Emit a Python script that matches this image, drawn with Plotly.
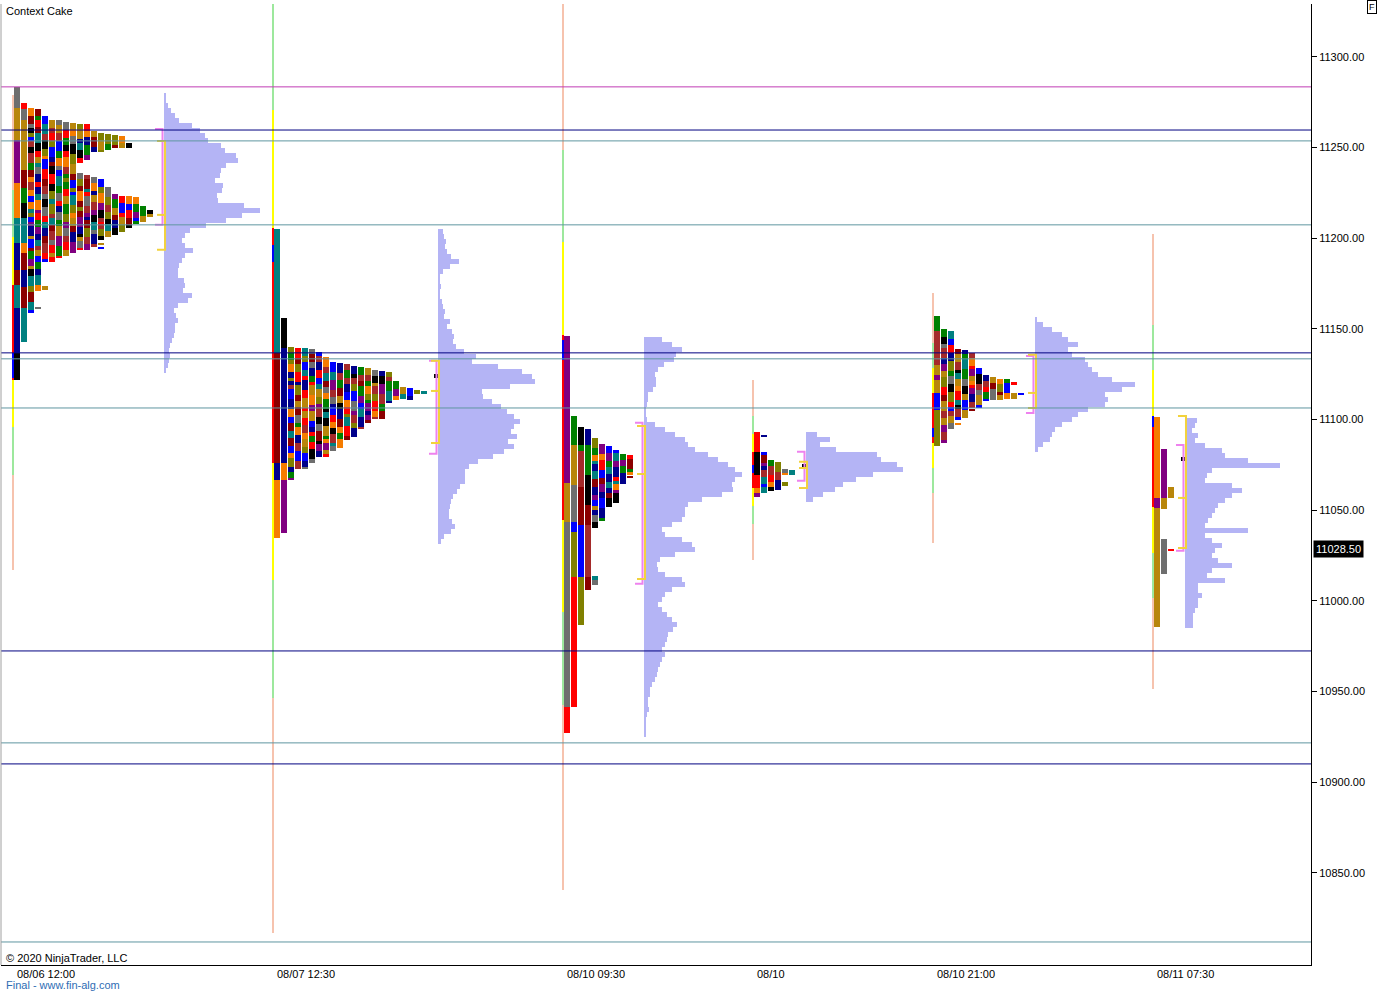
import plotly.graph_objects as go

# ---------------- data (prices) ----------------
price_ticks = [10850, 10900, 10950, 11000, 11050, 11100, 11150, 11200, 11250, 11300]
last_price = 11028.50
date_labels = ["08/06 12:00", "08/07 12:30", "08/10 09:30", "08/10", "08/10 21:00", "08/11 07:30"]
session_slot = [1.71, 38.86, 80.29, 107.43, 133.14, 164.57]   # bar index of each session start
vp_slot = [23.29, 62.43, 91.86, 115.00, 147.71, 169.14]       # bar index where volume profile starts

ib_low = [11121.9, 11076.1, 11044.7, 11062.3, 11087.1, 11051.8]
ib_high = [11174.3, 11205.7, 11146.7, 11082.2, 11114.7, 11102.0]
or_low = [11123.0, 11187.0, 11132.9, 11070.6, 11090.4, 11096.0]
or_high = [11136.8, 11196.3, 11143.9, 11075.0, 11095.4, 11102.0]

va_vol_high = [11260.3, 11132.4, 11098.2, 11082.2, 11135.1, 11086.0]
va_vol_low = [11207.4, 11081.1, 11009.4, 11066.2, 11103.7, 11027.6]
va_tpo_high = [11253.7, 11132.4, 11096.5, 11076.7, 11135.7, 11102.0]
tpo_poc = [11212.9, 11115.8, 11070.0, 11073.3, 11114.7, 11056.8]
va_tpo_low = [11193.6, 11087.1, 11012.1, 11062.3, 11106.4, 11029.2]
vol_poc_mark = [None, 11124.1, None, 11074.4, None, 11078.3]

level_prices = [11283.5, 11259.7, 11253.7, 11207.4, 11136.8, 11133.5, 11106.4,
                10972.4, 10921.7, 10910.1, 10811.9]
level_kind = ["week", "navy", "teal", "teal", "navy", "teal", "teal",
              "navy", "teal", "navy", "teal"]

# volume profiles: relative volume per row, from the top row downward
vp_top = [11280.1, 11205.1, 11145.6, 11093.2, 11156.6, 11100.9]
s1_vp = [1, 1, 4, 7, 11, 15, 28, 36, 41, 44, 57, 61, 72, 74, 62, 57, 56, 51, 59, 58, 53, 54,
         80, 96, 78, 62, 42, 26, 21, 18, 21, 29, 21, 18, 15, 14, 14, 20, 21, 19, 28, 24,
         14, 10, 12, 14, 11, 11, 10, 8, 6, 5, 6, 5, 4, 2]
s2_vp = [5, 6, 8, 7, 9, 13, 21, 12, 5, 2, 2, 3, 2, 2, 4, 5, 7, 6, 12, 9, 14, 16, 15, 18, 26,
         38, 34, 60, 84, 94, 97, 72, 44, 45, 54, 63, 69, 76, 82, 76, 73, 79, 70, 76, 66, 55,
         40, 31, 27, 27, 27, 22, 19, 15, 13, 12, 11, 11, 14, 17, 13, 6, 3]
s3_vp = [18, 28, 38, 32, 30, 20, 14, 11, 12, 12, 9, 4, 4, 3, 2, 1, 3, 11, 21, 31, 41, 44, 51,
         64, 74, 84, 91, 98, 91, 88, 89, 78, 58, 44, 41, 41, 38, 28, 18, 21, 38, 48, 51, 31,
         16, 13, 14, 21, 38, 41, 28, 21, 18, 14, 18, 23, 28, 33, 29, 24, 23, 21, 18, 21, 18,
         16, 14, 13, 11, 8, 6, 6, 4, 4, 5, 3, 2, 1, 1, 1]
s4_vp = [11, 24, 14, 30, 71, 75, 91, 97, 67, 50, 37, 29, 17, 7]
s5_vp = [2, 8, 17, 27, 33, 43, 33, 37, 50, 53, 57, 63, 77, 100, 87, 70, 73, 70, 53, 43, 37,
         27, 20, 17, 15, 8, 3]
s6_vp = [12, 10, 7, 13, 10, 20, 37, 40, 63, 95, 27, 22, 20, 47, 57, 47, 40, 33, 30, 27, 23,
         20, 63, 20, 27, 37, 30, 27, 33, 47, 27, 22, 40, 13, 13, 17, 13, 13, 10, 8, 8, 8]

# TPO columns: (column, top price, bottom price)
s1_cols = [(2, 11271.9, 11158.8), (3, 11271.3, 11171.0), (3, 11162.1, 11161.0),
           (4, 11267.5, 11186.9), (4, 11173.7, 11171.5), (5, 11265.3, 11186.9),
           (6, 11265.3, 11189.2), (7, 11264.2, 11190.3), (8, 11263.6, 11191.9),
           (9, 11263.1, 11241.5), (9, 11236.0, 11193.6), (10, 11263.1, 11243.2),
           (10, 11234.9, 11193.6), (11, 11259.2, 11247.6), (11, 11233.8, 11195.2),
           (12, 11258.1, 11247.6), (12, 11232.7, 11199.1), (12, 11197.4, 11196.3),
           (12, 11194.7, 11194.1), (13, 11257.5, 11248.7), (13, 11228.3, 11200.7),
           (14, 11257.0, 11249.8), (14, 11224.4, 11201.8), (15, 11256.4, 11249.8),
           (15, 11223.3, 11203.5), (16, 11252.6, 11249.8), (16, 11223.3, 11205.7),
           (17, 11222.8, 11207.9), (18, 11217.8, 11209.0), (19, 11215.6, 11211.8)]
s1_marked = [(0, 11283.5, 11271.9, "A"), (0, 11271.9, 11254.2, "Y"), (0, 11254.2, 11230.5, "P"),
             (0, 11230.5, 11211.2, "O"), (0, 11211.2, 11197.4, "T"), (0, 11197.4, 11182.5, "N"),
             (0, 11182.5, 11174.3, "D"), (0, 11174.3, 11161.6, "T"), (0, 11161.6, 11136.8, "N"),
             (0, 11136.8, 11121.9, "K"),
             (1, 11274.6, 11271.3, "R"), (1, 11271.3, 11265.3, "A"), (1, 11265.3, 11237.7, "Y"),
             (1, 11237.7, 11227.8, "D"), (1, 11227.8, 11219.5, "G"), (1, 11219.5, 11211.2, "K"),
             (1, 11211.2, 11197.4, "T"), (1, 11197.4, 11191.9, "O"), (1, 11191.9, 11182.5, "D"),
             (1, 11182.5, 11173.2, "N"), (1, 11173.2, 11161.6, "D"), (1, 11161.6, 11142.8, "T")]

s2_cols = [(2, 11140.1, 11066.7), (3, 11139.5, 11072.8), (4, 11139.5, 11072.8),
           (5, 11139.0, 11076.1), (6, 11137.3, 11079.4), (7, 11134.6, 11079.4),
           (8, 11131.8, 11082.7), (9, 11131.2, 11084.4), (10, 11130.7, 11088.8),
           (11, 11129.6, 11090.4), (12, 11129.0, 11094.8), (13, 11128.5, 11098.2),
           (14, 11127.4, 11100.4), (15, 11126.8, 11100.4), (16, 11126.3, 11109.2),
           (17, 11121.3, 11110.8), (18, 11118.0, 11111.4), (19, 11117.5, 11110.8),
           (20, 11116.4, 11114.1), (21, 11115.6, 11114.6)]
s2_marked = [(0, 11205.1, 11136.8, "T"), (0, 11136.8, 11076.1, "D"), (0, 11076.1, 11066.7, "N"),
             (0, 11066.7, 11034.7, "O"),
             (1, 11156.1, 11139.5, "K"), (1, 11139.5, 11076.1, "N"), (1, 11076.1, 11066.7, "O"),
             (1, 11066.7, 11037.5, "P")]

s3_cols = [(4, 11089.9, 11040.2), (4, 11013.8, 11008.8), (5, 11086.6, 11044.1),
           (6, 11085.5, 11051.8), (7, 11083.3, 11054.0), (8, 11081.1, 11064.5),
           (9, 11080.5, 11069.5), (9, 11068.6, 11068.0)]
s3_marked = [(0, 11146.1, 11065.1, "P"), (0, 11065.1, 11043.6, "Y"), (0, 11043.6, 10941.5, "A"),
             (0, 10941.5, 10927.2, "R"),
             (1, 11102.0, 11086.0, "G"), (1, 11086.0, 11064.0, "Y"), (1, 11064.0, 11043.6, "A"),
             (1, 11043.6, 11038.0, "B"), (1, 11038.0, 11013.2, "V"), (1, 11013.2, 10941.5, "R"),
             (2, 11095.9, 11086.0, "K"), (2, 11086.0, 11082.7, "G"), (2, 11082.7, 11062.9, "W"),
             (2, 11062.9, 11041.9, "D"), (2, 11041.9, 11013.2, "B"), (2, 11013.2, 10986.7, "V"),
             (3, 11094.8, 11086.0, "N"), (3, 11086.0, 11069.5, "G"), (3, 11069.5, 11052.9, "K"),
             (3, 11052.9, 11041.9, "D"), (3, 11041.9, 11013.2, "W"), (3, 11013.2, 11006.1, "D")]

s4_cols = [(1, 11082.2, 11059.5), (1, 11091.0, 11090.4), (2, 11077.7, 11060.6),
           (3, 11076.6, 11061.2), (4, 11072.8, 11069.5), (4, 11065.6, 11063.4),
           (5, 11072.2, 11069.5)]
s4_marked = [(0, 11093.2, 11082.2, "R"), (0, 11082.2, 11069.5, "K"), (0, 11069.5, 11062.3, "R"),
             (0, 11062.3, 11059.5, "O"), (0, 11059.5, 11057.3, "P")]

s5_cols = [(1, 11150.0, 11087.1), (2, 11148.9, 11094.8), (3, 11139.0, 11099.8),
           (3, 11097.9, 11097.3), (4, 11138.4, 11100.9), (5, 11136.8, 11106.4),
           (5, 11105.5, 11104.9), (6, 11128.5, 11106.4), (7, 11124.6, 11110.3),
           (8, 11123.5, 11110.8), (9, 11122.4, 11110.8), (10, 11122.4, 11111.4),
           (11, 11120.5, 11119.6), (11, 11114.7, 11111.4), (12, 11114.4, 11113.8)]
s5_marked = [(0, 11157.2, 11148.9, "G"), (0, 11148.9, 11130.1, "W"), (0, 11130.1, 11124.6, "Y"),
             (0, 11124.6, 11121.9, "P"), (0, 11121.9, 11114.7, "Y"), (0, 11114.7, 11105.3, "B"),
             (0, 11105.3, 11085.5, "V")]

s6_cols = []
s6_marked = [(0, 11101.5, 11056.8, "O"), (0, 11056.8, 11051.3, "P"), (0, 11051.3, 10985.6, "Y"),
             (1, 11083.8, 11056.8, "P"), (1, 11056.8, 11050.7, "Y"), (1, 11034.2, 11014.9, "A"),
             (2, 11062.9, 11056.8, "Y"), (2, 11028.3, 11027.7, "R")]

# ---------------- style ----------------
PX = 1.0 / 7.0                      # one screen pixel in bar-index units
VP_ROW = 2.757                      # price height of one volume-profile row
VP_SCALE = PX                       # relative volume -> bar-index units
LETTER_COLOR = {"R": "#FF0000", "G": "#008000", "B": "#0000FF", "K": "#000000",
                "O": "#F57C00", "Y": "#B8860B", "P": "#800080", "T": "#008080",
                "A": "#6E6E6E", "W": "#A52A2A", "V": "#808000", "N": "#00008B",
                "D": "#8B0000"}
PALETTE = list(LETTER_COLOR.values())
RUNS = [2.0, 3.0, 4.0, 4.5, 5.5, 3.5]
LEVEL_COLOR = {"week": "#C03CB4", "navy": "#000080", "teal": "#5F96A0"}
FONT = "Liberation Sans, Arial, sans-serif"
Y_RANGE = [10799.2, 11329.2]
X_RANGE = [0, 1310 * PX]

all_cols = [s1_cols, s2_cols, s3_cols, s4_cols, s5_cols, s6_cols]
all_marked = [s1_marked, s2_marked, s3_marked, s4_marked, s5_marked, s6_marked]
all_vp = [s1_vp, s2_vp, s3_vp, s4_vp, s5_vp, s6_vp]


def mix(*vals):
    h = 2166136261
    for v in vals:
        h ^= (int(v) * 2654435761) & 0xFFFFFFFF
        h = (h * 16777619) & 0xFFFFFFFF
        h ^= h >> 13
    return h


fig = go.Figure()

# session range-extension lines + initial balance
ex, eb, eh, ec = [], [], [], []
for s in range(6):
    r = ib_high[s] - ib_low[s]
    for mult, col in [(2.0, "#F6C3AE"), (1.0, "#9DE89D"), (0.5, "#FFFF00")]:
        lo = ib_low[s] - mult * r
        hi = ib_high[s] + mult * r
        ex.append(session_slot[s]); eb.append(lo); eh.append(hi - lo); ec.append(col)
    ex.append(session_slot[s]); eb.append(ib_low[s]); eh.append(r); ec.append("#FF0000")
    ex.append(session_slot[s]); eb.append(or_low[s]); eh.append(or_high[s] - or_low[s]); ec.append("#0000FF")
fig.add_trace(go.Bar(x=ex, y=eh, base=eb, width=2 * PX,
                     marker=dict(color=ec, line=dict(width=0)),
                     hoverinfo="skip", showlegend=False))

# TPO cells
cx, cb, ch, cc = [], [], [], []
for s in range(6):
    sx = session_slot[s]
    for (c, top, bot, letter) in all_marked[s]:
        cx.append(sx + (4 + 7 * c) * PX); cb.append(bot); ch.append(top - bot)
        cc.append(LETTER_COLOR[letter])
    for (c, top, bot) in all_cols[s]:
        p = top
        k = 0
        prev = None
        while p > bot + 1e-6:
            hh = mix(s + 1, c + 3, k + 7, round(top * 10))
            run = RUNS[hh % len(RUNS)]
            lo = max(bot, p - run)
            if lo - bot < 0.8:
                lo = bot
            ci = (hh >> 7) % len(PALETTE)
            if PALETTE[ci] == prev:
                ci = (ci + 5) % len(PALETTE)
            prev = PALETTE[ci]
            cx.append(sx + (4 + 7 * c) * PX); cb.append(lo); ch.append(p - lo); cc.append(prev)
            p = lo
            k += 1
fig.add_trace(go.Bar(x=cx, y=ch, base=cb, width=6 * PX,
                     marker=dict(color=cc, line=dict(width=0)),
                     hoverinfo="skip", showlegend=False))

# volume profiles
vy, vx, vb = [], [], []
for s in range(6):
    for k, v in enumerate(all_vp[s]):
        vy.append(vp_top[s] - (k + 0.5) * VP_ROW)
        vx.append(v * VP_SCALE)
        vb.append(vp_slot[s])
fig.add_trace(go.Bar(orientation="h", y=vy, x=vx, base=vb, width=VP_ROW * 0.92,
                     marker=dict(color="#B4B4F5", line=dict(width=0)),
                     hoverinfo="skip", showlegend=False))

# value-area brackets
pxs, pys, yxs, yys = [], [], [], []
for s in range(6):
    v = vp_slot[s]
    xv = v - 1.5 * PX
    xt = v - 9 * PX
    pxs += [xt, xv, xv, xt, None]
    pys += [va_vol_high[s], va_vol_high[s], va_vol_low[s], va_vol_low[s], None]
    yv = v + 1 * PX
    yt = v - 7 * PX
    yxs += [yt, yv, yv, yt, None, yt, yv, None]
    yys += [va_tpo_high[s], va_tpo_high[s], va_tpo_low[s], va_tpo_low[s], None,
            tpo_poc[s], tpo_poc[s], None]
fig.add_trace(go.Scatter(x=pxs, y=pys, mode="lines", line=dict(color="#EE82EE", width=2),
                         hoverinfo="skip", showlegend=False))
fig.add_trace(go.Scatter(x=yxs, y=yys, mode="lines", line=dict(color="#F2D23C", width=2),
                         hoverinfo="skip", showlegend=False))

# black POC marks
bx, bb, bh = [], [], []
for s in range(6):
    if vol_poc_mark[s] is not None:
        bx.append(vp_slot[s] - 1 * PX); bb.append(vol_poc_mark[s] - 1.1); bh.append(2.2)
fig.add_trace(go.Bar(x=bx, y=bh, base=bb, width=6 * PX,
                     marker=dict(color="#000000", line=dict(width=0)),
                     hoverinfo="skip", showlegend=False))

# horizontal levels
shapes = []
for p, kind in zip(level_prices, level_kind):
    shapes.append(dict(type="line", xref="paper", x0=0, x1=1, yref="y", y0=p, y1=p,
                       line=dict(color=LEVEL_COLOR[kind], width=1), layer="above"))
shapes.append(dict(type="line", xref="paper", x0=0, x1=0, yref="paper", y0=0, y1=1,
                   line=dict(color="#A0A0A0", width=1)))

ann = []
for s, lab in enumerate(date_labels):
    ann.append(dict(x=session_slot[s] + 2 * PX, xref="x", y=-9 / 961, yref="paper",
                    text=lab, showarrow=False, xanchor="left", yanchor="middle",
                    font=dict(family=FONT, size=11, color="#000000")))
ann.append(dict(x=3 / 1310, xref="paper", y=1 - 7 / 961, yref="paper", text="Context Cake",
                showarrow=False, xanchor="left", yanchor="middle",
                font=dict(family=FONT, size=11, color="#000000")))
ann.append(dict(x=3 / 1310, xref="paper", y=7 / 961, yref="paper", text="© 2020 NinjaTrader, LLC",
                showarrow=False, xanchor="left", yanchor="middle",
                font=dict(family=FONT, size=11, color="#000000")))
ann.append(dict(x=3 / 1310, xref="paper", y=-20 / 961, yref="paper", text="Final - www.fin-alg.com",
                showarrow=False, xanchor="left", yanchor="middle",
                font=dict(family=FONT, size=11, color="#2E6DB4")))
ann.append(dict(x=1 + 2 / 1310, xref="paper", y=last_price, yref="y", text="%.2f" % last_price,
                showarrow=False, xanchor="left", yanchor="middle", bgcolor="#000000",
                borderpad=2, font=dict(family=FONT, size=11, color="#FFFFFF")))
ann.append(dict(x=(1372 - 1) / 1310, xref="paper", y=(965 - 7) / 961, yref="paper", text="F",
                showarrow=False, xanchor="center", yanchor="middle", bordercolor="#000000",
                borderwidth=1, borderpad=1, font=dict(family=FONT, size=9, color="#000000")))

fig.update_layout(
    width=1380, height=992,
    margin=dict(l=1, r=69, t=4, b=27),
    paper_bgcolor="#FFFFFF", plot_bgcolor="#FFFFFF",
    barmode="overlay", bargap=0,
    showlegend=False,
    shapes=shapes, annotations=ann,
    xaxis=dict(range=X_RANGE, showgrid=False, zeroline=False, showticklabels=False,
               ticks="", showline=True, linecolor="#000000", linewidth=1, fixedrange=True),
    yaxis=dict(range=Y_RANGE, side="right", showgrid=False, zeroline=False,
               tickvals=price_ticks, ticktext=["%.2f" % v for v in price_ticks],
               ticks="outside", ticklen=5, tickcolor="#000000", showline=True,
               linecolor="#000000", linewidth=1,
               tickfont=dict(family=FONT, size=11, color="#000000"), fixedrange=True),
)

fig.write_html("out.html", config={"displayModeBar": False},
               post_script="document.body.style.margin='0px';document.body.style.overflow='hidden';")
